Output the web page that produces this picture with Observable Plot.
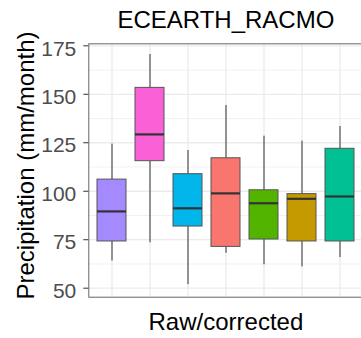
<!DOCTYPE html>
<html>
<head>
<meta charset="utf-8">
<script src="https://cdn.jsdelivr.net/npm/d3@7"></script>
<script src="https://cdn.jsdelivr.net/npm/@observablehq/plot@0.6"></script>
<style>
  html, body { margin: 0; padding: 0; background: #fff; overflow: hidden; }
</style>
</head>
<body>
<div id="chart"></div>
<script>
const categories = ["S1", "S2", "S3", "S4", "S5", "S6", "S7"];
const colors = ["#A58AFF", "#FB61D7", "#00B6EB", "#F8766D", "#53B400", "#C49A00", "#00C094"];
const whiskerLow  = [64.0, 73.4, 51.8, 68.0, 62.1, 61.0, 65.8];
const q1          = [74.1, 115.5, 81.8, 71.3, 75.1, 74.1, 74.1];
const median      = [89.6, 129.3, 91.2, 98.9, 93.8, 96.1, 97.3];
const q3          = [106.0, 153.3, 108.8, 117.0, 100.5, 98.5, 121.9];
const whiskerHigh = [124.3, 170.5, 121.0, 144.2, 128.4, 125.8, 133.4];
const majorTicks = [50, 75, 100, 125, 150, 175];
const minorTicks = [62.5, 87.5, 112.5, 137.5, 162.5];
const title = "ECEARTH_RACMO";
const xTitle = "Raw/corrected";
const yTitle = "Precipitation (mm/month)";

const data = categories.map((c, i) => ({
  cat: c, lo: whiskerLow[i], q1: q1[i], med: median[i], q3: q3[i], hi: whiskerHigh[i]
}));

const chart = Plot.plot({
  width: 361,
  height: 338,
  marginLeft: 88.3,
  marginRight: -1.5,
  marginTop: 43.3,
  marginBottom: 41.3,
  style: { fontFamily: "'Liberation Sans', Arial, sans-serif", background: "#fff" },
  x: { type: "band", domain: categories, paddingInner: 0.25, paddingOuter: 0.225, axis: null },
  y: { domain: [45.36, 176.03], axis: null },
  color: { domain: categories, range: colors },
  marks: [
    Plot.gridY(minorTicks, { stroke: "#EBEBEB", strokeOpacity: 1, strokeWidth: 0.7 }),
    Plot.gridY(majorTicks, { stroke: "#EBEBEB", strokeOpacity: 1, strokeWidth: 1.3 }),
    Plot.gridX(categories, { stroke: "#EBEBEB", strokeOpacity: 1, strokeWidth: 1.3 }),
    Plot.ruleX(data, { x: "cat", y1: "lo", y2: "q1", stroke: "#333", strokeWidth: 1 }),
    Plot.ruleX(data, { x: "cat", y1: "q3", y2: "hi", stroke: "#333", strokeWidth: 1 }),
    Plot.barY(data, { x: "cat", y1: "q1", y2: "q3", fill: "cat", stroke: "#555", strokeWidth: 1 }),
    Plot.tickY(data, { x: "cat", y: "med", stroke: "#333", strokeWidth: 2.2 }),
    Plot.frame({ stroke: "#666", strokeWidth: 1 }),
    Plot.axisY(majorTicks, { tickSize: 5, tickFormat: () => "", stroke: "#333", label: null }),
    Plot.text(majorTicks, { y: (d) => d, text: (d) => String(d), frameAnchor: "left", textAnchor: "end", lineAnchor: "middle", dx: -12.5, dy: 3, fontSize: 21, fill: "#4D4D4D" }),
    Plot.text([title], { frameAnchor: "top", lineAnchor: "bottom", dy: -16, fontSize: 24, fill: "#000" }),
    Plot.text([xTitle], { frameAnchor: "bottom", lineAnchor: "bottom", dy: 32.6, fontSize: 24, fill: "#000" }),
    Plot.text([yTitle], { frameAnchor: "left", textAnchor: "middle", lineAnchor: "bottom", rotate: -90, dx: -55.3, dy: -5, fontSize: 24, fill: "#000" })
  ]
});
document.getElementById("chart").appendChild(chart);
</script>
</body>
</html>
